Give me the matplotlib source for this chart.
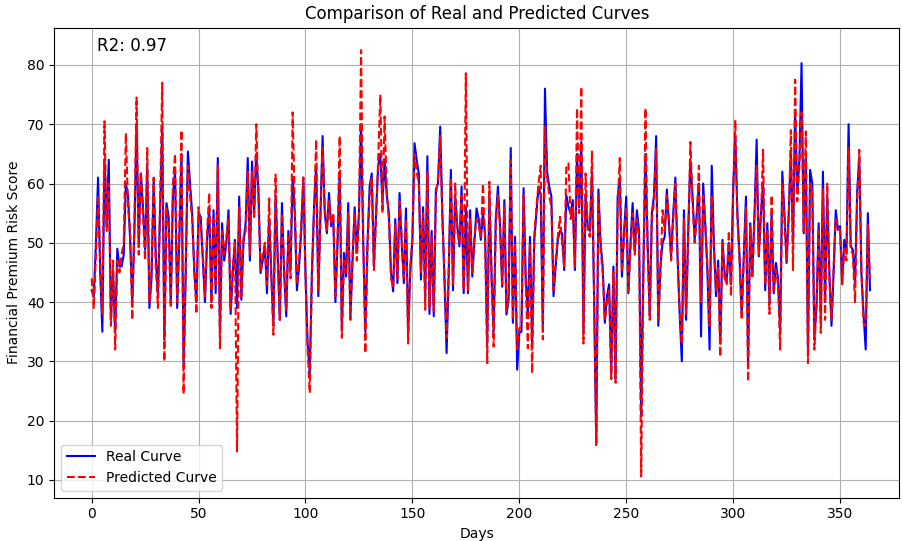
import numpy as np
import matplotlib
matplotlib.use("Agg")
import matplotlib.pyplot as plt

days = np.arange(0, 365)

real_curve = [
    42, 41, 50, 61, 45, 35, 64, 53, 64, 37,
    45, 35, 49, 46, 46, 48, 60, 58, 50.5, 40,
    52, 70, 50, 61.7, 56, 48.8, 63, 39, 44, 60.6,
    47.7, 41, 55, 69.6, 33.7, 56.7, 54.4, 39.8, 58, 62,
    39, 50.5, 65, 29, 45, 65.4, 60, 55, 45, 40,
    55, 54.4, 47, 40, 50.5, 56, 40, 55.5, 41.5, 64.3,
    35, 53.3, 47, 50, 55.5, 38, 45, 50.5, 39, 57.8,
    40.4, 50, 53.3, 64.3, 47, 63.7, 55, 65, 59, 44.9,
    47, 49.4, 41.5, 54, 45, 36, 58, 48, 37, 56.7,
    45, 37.6, 52, 45.4, 61, 55, 42, 46, 52, 61,
    45, 33, 28, 45, 56, 63, 41, 55, 68, 55,
    51.6, 58.4, 52.8, 54.4, 40, 50, 62, 35.3, 48.3, 44.3,
    56.7, 37.6, 47, 56, 48.3, 55, 70, 50, 35, 50,
    59.5, 61.7, 46, 55, 63, 65, 56.7, 64, 58, 55,
    45, 41.8, 54, 43.2, 58.4, 50, 43.2, 55.8, 35, 45,
    50.5, 66.8, 64, 61.7, 43.8, 56, 41, 64.6, 38, 52,
    37.6, 59, 60, 69.6, 55, 43.8, 31.4, 45, 62.3, 42,
    58, 52.8, 49.4, 59.5, 41.5, 56, 41.5, 55.5, 44.3, 50,
    55.8, 54, 50.5, 55, 51.6, 33, 58, 45, 35, 54,
    59.5, 52.8, 42.6, 57.2, 37.9, 40.4, 66, 36.5, 51, 28.6,
    34.8, 35, 59.2, 44, 38, 51, 33, 50.5, 55, 59.5,
    58, 36, 76, 62, 59.5, 57.8, 41, 46, 50.5, 52,
    51.6, 45.4, 58, 56, 55, 57.2, 45.4, 65, 56, 67,
    35, 58, 52.8, 52, 62, 40, 16, 59, 50, 46,
    36.5, 41, 43, 28, 46, 27, 57.8, 61, 44.3, 52,
    57.8, 41.5, 50, 56.7, 48.5, 55.5, 52, 21, 45, 65,
    50, 37.6, 55, 58, 68, 36, 46, 50, 51, 59,
    53, 47.7, 55, 61, 47.7, 38, 30, 55.5, 37, 52,
    64, 58, 50.5, 55, 60, 34.2, 60, 52.8, 45, 32,
    63, 50, 41, 47, 33, 50.5, 45, 43.2, 50, 43,
    59, 68, 55, 47.7, 38, 47.7, 57.8, 30, 53.3, 45,
    55, 67.4, 47.7, 55, 60, 42, 53.3, 40, 55, 41.5,
    46.6, 44, 35, 62, 55, 46.6, 55, 65, 50, 72,
    58.4, 64, 80.3, 51.6, 65, 32, 62.3, 60, 34, 39.3,
    53.3, 37, 62, 40, 58, 44.9, 36, 45, 55.5, 52.2,
    52.8, 43.2, 50.5, 48.3, 70, 49.4, 48.8, 43.2, 58.4, 64.5,
    44.9, 38, 32, 55, 42,
]

predicted_curve = [
    44, 39, 48, 58, 47, 38, 70.5, 52, 60, 36,
    47, 32, 47, 45, 48, 50, 68.5, 56, 52, 37,
    54, 74.5, 48, 62, 55, 47, 66, 40, 46, 61,
    46, 39, 57, 77, 30, 56, 53, 39, 60, 65,
    40, 52, 69, 24.5, 47, 63, 58, 54, 46, 38,
    56, 53, 48, 41, 52, 58.4, 39, 54, 43, 63,
    32.2, 52, 48, 51, 54, 38.5, 46, 50, 14.8, 56,
    41, 51, 52, 62, 48, 62, 54, 70, 57, 45,
    48, 50, 43, 57.5, 44, 34.5, 61.5, 47, 37, 55,
    46, 38.5, 51, 44, 72, 56, 43, 47, 53, 61,
    44, 32, 24.7, 44, 55, 67.4, 42, 54, 66, 56,
    52, 57, 53, 55, 41, 51, 68, 34, 47, 45,
    55, 37, 48, 55, 47, 54, 82.5, 51, 31.4, 49,
    58, 61, 45.4, 54, 64, 75, 55, 71.3, 59, 54,
    44, 42.5, 53, 44, 57, 51, 44, 54, 33, 46,
    51, 65, 62, 60, 45, 55, 38.7, 62, 39, 51,
    38.5, 58, 61, 68, 54, 45, 34, 46, 61, 43,
    60, 52, 50, 58, 42, 78.6, 42, 54, 45, 51,
    54, 53, 51, 60, 50, 29.7, 60.3, 44, 32.5, 53,
    58, 53, 43, 56, 38.5, 41, 64, 37, 50, 32,
    35.5, 36, 58, 43, 32.2, 50, 28, 51, 56, 60,
    63, 33.7, 69.6, 61, 58, 56, 42, 47, 51, 54.4,
    50, 46, 63, 63.4, 54, 56, 46, 72.7, 55, 76.3,
    33, 61.7, 52, 51, 65.4, 41, 15.7, 58, 49, 45,
    37, 40, 42, 27, 45, 26.4, 56, 64.3, 45, 51,
    56, 42, 49, 55, 48, 54, 51, 10.6, 44, 72.7,
    49, 37, 54, 57, 66, 37, 45, 55.5, 52, 58,
    54, 47, 54, 60, 48, 38.5, 33, 54, 38, 51,
    67, 57, 50, 54, 63, 40, 58, 53, 46, 36,
    58, 49, 42, 46, 30.8, 50, 44, 43, 52, 41,
    58, 70.7, 54, 47, 37, 47, 56, 26.6, 53, 44,
    54, 63, 48, 54, 65.7, 43, 52, 38, 58, 42,
    45.5, 43, 32, 60, 54, 47, 54, 69, 45.4, 77.5,
    57, 63, 72, 52, 68.8, 29.7, 60, 59, 32, 40,
    52, 34.8, 59, 37, 60, 44, 37, 46, 54, 52.8,
    52, 43, 49, 47, 66, 49, 48, 40, 57, 65.7,
    45, 36.5, 36, 53, 44,
]

r2_text = "R2: 0.97"

fig, ax = plt.subplots(figsize=(9.04, 5.41), dpi=100)
ax.plot(days, real_curve, color="blue", linewidth=1.5, label="Real Curve")
ax.plot(days, predicted_curve, color="red", linestyle="--", linewidth=1.5, label="Predicted Curve")
ax.set_title("Comparison of Real and Predicted Curves")
ax.set_xlabel("Days")
ax.set_ylabel("Financial Premium Risk Score")
ax.text(0.05, 0.96, r2_text, transform=ax.transAxes, fontsize=12, va="center")
ax.legend(loc="lower left")
ax.grid(True)
ax.set_xlim(-17.5, 377.8)
ax.set_ylim(7.0, 86.3)

plt.subplots_adjust(left=0.06, right=0.995, top=0.949, bottom=0.08)
plt.savefig("out.png", dpi=100)
plt.close(fig)
